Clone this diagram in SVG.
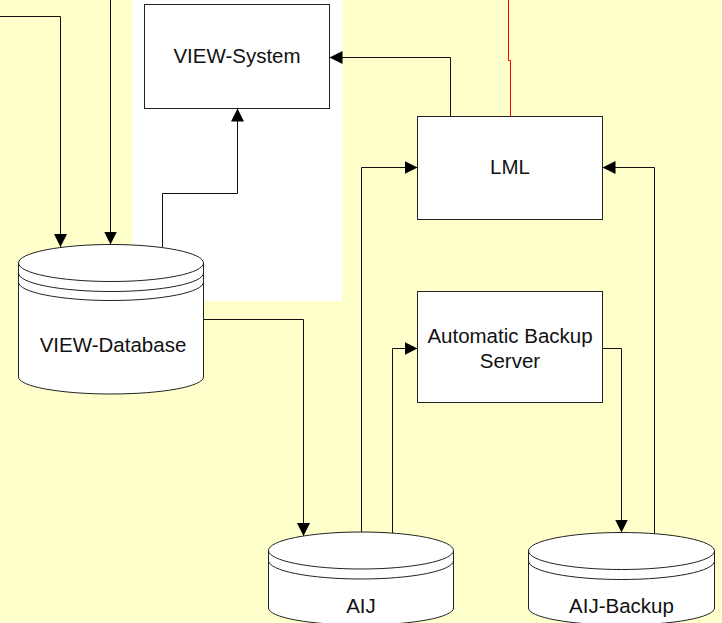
<svg xmlns="http://www.w3.org/2000/svg" width="722" height="623" viewBox="0 0 722 623">
<style>
.bg{fill:#FFFFCC}
.panel{fill:#FFFFFF}
.box{fill:#FFFFFF;stroke:#222;stroke-width:1}
.cyl{fill:#FFFFFF;stroke:#222;stroke-width:1}
.band{fill:none;stroke:#222;stroke-width:1}
.lbl{font-family:"Liberation Sans",Arial,sans-serif;font-size:20.5px;fill:#111;text-anchor:middle}
.c{fill:none;stroke:#111;stroke-width:1}
.red{fill:none;stroke:#FF0000;stroke-width:1}
</style>
<defs>
<marker id="ah" markerUnits="userSpaceOnUse" markerWidth="14" markerHeight="14" refX="13" refY="6.5" orient="auto">
<path d="M0,0 L13,6.5 L0,13 Z" fill="#000"/>
</marker>
</defs>
<rect class="bg" x="0" y="0" width="722" height="623"/>
<rect class="panel" x="132" y="0" width="210" height="301"/>

<g id="connectors">
<path class="c" d="M0,16.5 H60.5 V247" marker-end="url(#ah)"/>
<path class="c" d="M110.5,0 V244.5" marker-end="url(#ah)"/>
<path class="c" d="M162.5,247.5 V193.5 H237.5 V108.5" marker-end="url(#ah)"/>
<path class="c" d="M450.5,116.5 V57.5 H329.5" marker-end="url(#ah)"/>
<path class="red" d="M508.5,0 V60.5 H510.5 V116.5"/>
<path class="c" d="M361.5,532 V167.5 H417.5" marker-end="url(#ah)"/>
<path class="c" d="M392.5,533 V348.5 H417.5" marker-end="url(#ah)"/>
<path class="c" d="M654.5,533.5 V167.5 H602.5" marker-end="url(#ah)"/>
<path class="c" d="M602.5,348.5 H621.5 V532.5" marker-end="url(#ah)"/>
<path class="c" d="M204,319.5 H303.5 V536" marker-end="url(#ah)"/>
</g>

<g id="view-system">
<rect class="box" x="144.5" y="4.5" width="185" height="104"/>
<text class="lbl" x="237" y="63">VIEW-System</text>
</g>

<g id="lml">
<rect class="box" x="417.5" y="116.5" width="185" height="103"/>
<text class="lbl" x="510" y="174">LML</text>
</g>

<g id="automatic-backup-server">
<rect class="box" x="417.5" y="291.5" width="185" height="111"/>
<text class="lbl" x="510" y="342.5">Automatic Backup</text>
<text class="lbl" x="510" y="367.5">Server</text>
</g>

<g id="view-database">
<path class="cyl" d="M18.5,263 V377 A92.5,17 0 0 0 203.5,377 V263 A92.5,18.5 0 0 0 18.5,263 Z"/>
<path class="band" d="M18.5,263 A92.5,18.5 0 0 0 203.5,263"/>
<path class="band" d="M18.5,273 A92.5,18.5 0 0 0 203.5,273"/>
<path class="band" d="M18.5,282 A92.5,18.5 0 0 0 203.5,282"/>
<text class="lbl" x="113" y="352">VIEW-Database</text>
</g>

<g id="aij">
<path class="cyl" d="M268.5,550.5 V608 A92.5,17 0 0 0 453.5,608 V550.5 A92.5,18.5 0 0 0 268.5,550.5 Z"/>
<path class="band" d="M268.5,550.5 A92.5,18.5 0 0 0 453.5,550.5"/>
<path class="band" d="M268.5,560.5 A92.5,18.5 0 0 0 453.5,560.5"/>
<text class="lbl" x="361" y="613">AIJ</text>
</g>

<g id="aij-backup">
<path class="cyl" d="M528.5,551 V608 A93,17 0 0 0 714.5,608 V551 A93,18.5 0 0 0 528.5,551 Z"/>
<path class="band" d="M528.5,551 A93,18.5 0 0 0 714.5,551"/>
<path class="band" d="M528.5,561 A93,18.5 0 0 0 714.5,561"/>
<text class="lbl" x="621.5" y="613">AIJ-Backup</text>
</g>
</svg>
